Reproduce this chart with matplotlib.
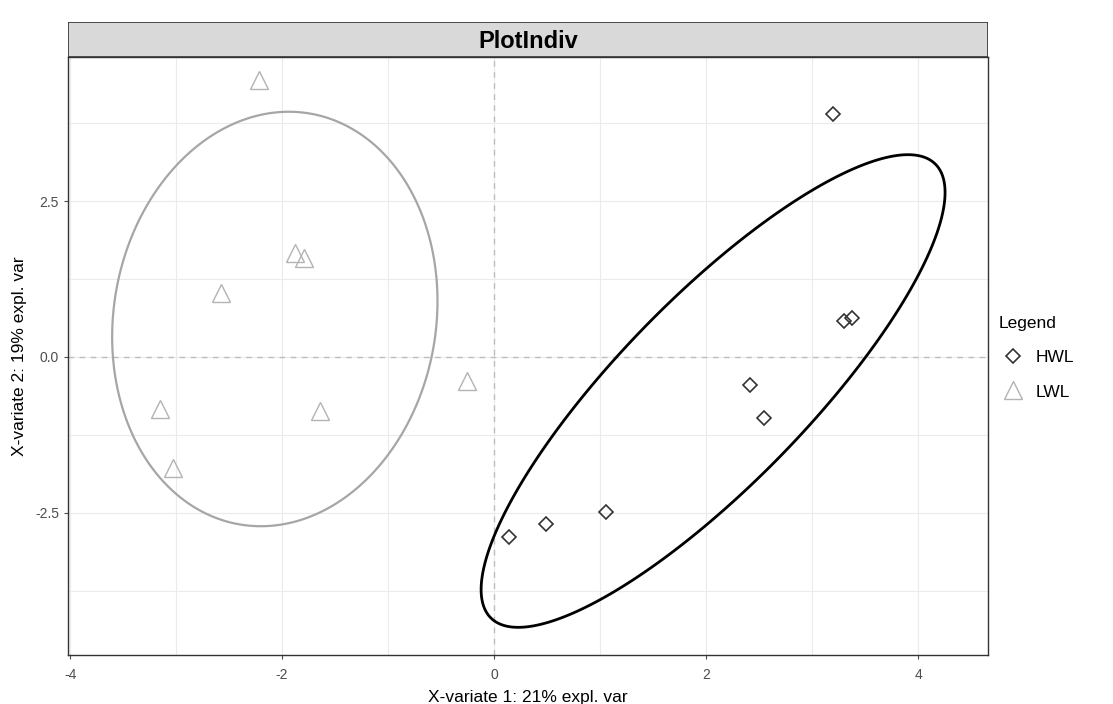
import numpy as np
import matplotlib
matplotlib.use("Agg")
import matplotlib.pyplot as plt
from matplotlib.patches import Rectangle, Polygon

plt.rcParams['font.family'] = ['Liberation Sans', 'DejaVu Sans']
plt.rcParams['axes.unicode_minus'] = False

# scores
hwl_x = [3.20, 3.30, 3.38, 2.41, 2.55, 1.06, 0.49, 0.14]
hwl_y = [3.89, 0.58, 0.63, -0.45, -0.98, -2.48, -2.68, -2.88]
lwl_x = [-2.22, -1.88, -1.79, -2.58, -3.15, -1.64, -3.03, -0.26]
lwl_y = [4.44, 1.67, 1.59, 1.03, -0.83, -0.87, -1.78, -0.38]

groups = ["HWL", "LWL"]
x_ticks = [-4, -2, 0, 2, 4]
y_ticks = [-2.5, 0.0, 2.5]
ellipse_level = 0.75


def conf_ellipse(x, y, level, n=300):
    pts = np.column_stack([x, y])
    centre = pts.mean(axis=0)
    cov = np.cov(pts, rowvar=False)
    t = np.sqrt(-2 * np.log(1 - level))  # chi-square, 2 df
    L = np.linalg.cholesky(cov)
    a = np.linspace(0, 2 * np.pi, n, endpoint=False)
    circ = np.vstack([np.cos(a), np.sin(a)])
    e = centre[:, None] + t * L @ circ
    return e.T


fig = plt.figure(figsize=(11.13, 7.04), dpi=100)
ax = fig.add_axes([0.0611, 0.0696, 0.8266, 0.8494])

for v in np.arange(-4, 5, 1):
    ax.axvline(v, color="#ebebeb", lw=0.8, zorder=0)
for v in np.arange(-3.75, 4.0, 1.25):
    ax.axhline(v, color="#ebebeb", lw=0.8, zorder=0)
ax.axvline(0, color="#bdbdbd", lw=1.0, ls=(0, (4, 4)), zorder=1)
ax.axhline(0, color="#bdbdbd", lw=1.0, ls=(0, (4, 4)), zorder=1)

ax.add_patch(Polygon(conf_ellipse(hwl_x, hwl_y, ellipse_level), closed=True,
                     fill=False, edgecolor="black", lw=2.0, zorder=2))
ax.add_patch(Polygon(conf_ellipse(lwl_x, lwl_y, ellipse_level), closed=True,
                     fill=False, edgecolor="#a6a6a6", lw=1.6, zorder=2))

ax.plot(hwl_x, hwl_y, ls="none", marker="D", ms=7, mfc="none", mec="#333333",
        mew=1.2, label=groups[0], zorder=3)
ax.plot(lwl_x, lwl_y, ls="none", marker="^", ms=13, mfc="none", mec="#b3b3b3",
        mew=1.0, label=groups[1], zorder=3)

ax.set_xlim(-4.02, 4.66)
ax.set_ylim(-4.78, 4.81)
ax.set_xticks(x_ticks)
ax.set_yticks(y_ticks)
ax.set_yticklabels(["-2.5", "0.0", "2.5"])
ax.tick_params(colors="#4d4d4d", labelsize=10, length=3, width=0.8)
ax.tick_params(axis="x", pad=6)
for s in ax.spines.values():
    s.set_color("#333333")
    s.set_linewidth(1.0)

ax.set_xlabel("X-variate 1: 21% expl. var", fontsize=12.5, labelpad=6)
ax.set_ylabel("X-variate 2: 19% expl. var", fontsize=12.5, labelpad=6)

# facet strip
strip = fig.add_axes([0.0611, 0.919, 0.8266, 0.0497])
strip.add_patch(Rectangle((0, 0), 1, 1, facecolor="#d9d9d9", edgecolor="#333333",
                          lw=1.2, transform=strip.transAxes))
strip.text(0.5, 0.45, "PlotIndiv", ha="center", va="center", fontsize=17,
           fontweight="bold")
strip.axis("off")

leg = ax.legend(title="Legend", loc="center left", bbox_to_anchor=(0.995, 0.497),
                frameon=False, fontsize=12.5, title_fontsize=12.5,
                handletextpad=0.5, handlelength=1.6, labelspacing=1.1)
leg._legend_box.align = "left"

fig.savefig("out.png", dpi=100)
